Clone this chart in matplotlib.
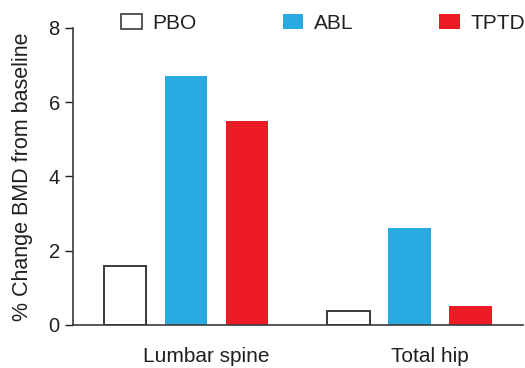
import numpy as np
import matplotlib.pyplot as plt
from matplotlib.patches import Patch

plt.rcParams['font.family'] = ['Liberation Sans', 'DejaVu Sans']

sites = ['Lumbar spine', 'Total hip']
groups = ['PBO', 'ABL', 'TPTD']
pbo = [1.6, 0.38]
abl = [6.7, 2.6]
tptd = [5.5, 0.5]
yticks = [0, 2, 4, 6, 8]

ink = '#231f20'
fig = plt.figure(figsize=(5.25, 3.68), dpi=100)
ax = fig.add_axes([0.139, 0.117, 0.857, 0.807])

x = np.arange(len(sites))
w = 0.192
off = 0.273
ax.bar(x - off, pbo, w, facecolor='white', edgecolor='#3a3a3a', linewidth=1.4)
ax.bar(x, abl, w, color='#29abe2')
ax.bar(x + off, tptd, w, color='#ed1c24')

ax.set_xlim(-0.506, 1.508)
ax.set_ylim(0, 8)
ax.set_yticks(yticks)
ax.set_xticks(x + 0.09)
ax.set_xticklabels(sites)
ax.tick_params(axis='x', length=0, pad=16, labelsize=15, colors=ink)
ax.tick_params(axis='y', length=6, width=1, labelsize=14.5, colors=ink, direction='out')
for s in ['top', 'right']:
    ax.spines[s].set_visible(False)
for s in ['left', 'bottom']:
    ax.spines[s].set_color('#3a3a3a')
    ax.spines[s].set_linewidth(1.2)
ax.set_ylabel('% Change BMD from baseline', fontsize=15.5, color=ink, labelpad=11)

handles = [Patch(facecolor='white', edgecolor='#3a3a3a', linewidth=1.2),
           Patch(facecolor='#29abe2'), Patch(facecolor='#ed1c24')]
leg = fig.legend(handles, groups, ncol=3, loc='center left',
                 bbox_to_anchor=(0.2305, 0.902, 0.77, 0.07), mode='expand',
                 frameon=False, fontsize=15, handlelength=1.0, handleheight=0.7,
                 handletextpad=0.5, borderaxespad=0, borderpad=0)
for t in leg.get_texts():
    t.set_color(ink)

fig.savefig('out.png', dpi=100)
